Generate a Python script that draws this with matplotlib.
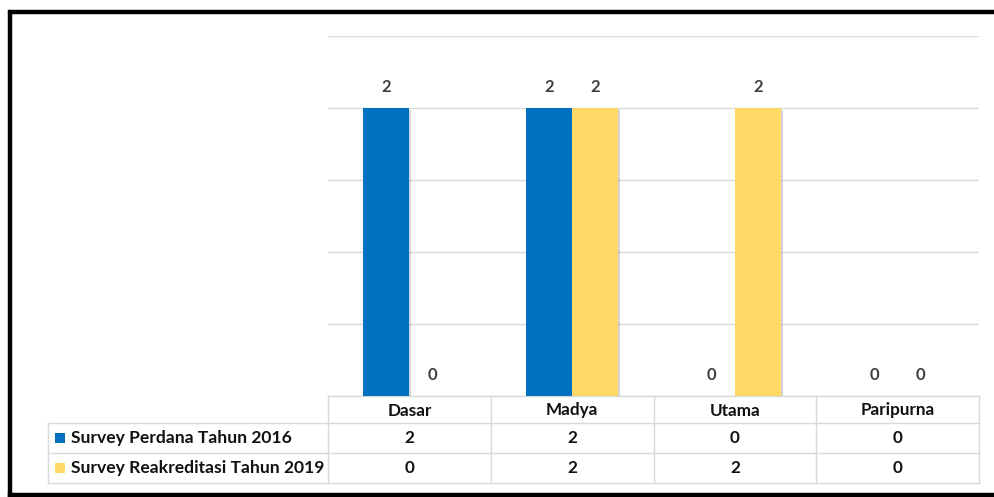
import matplotlib
matplotlib.use("Agg")
import matplotlib.pyplot as plt
import matplotlib.patheffects as pe
import numpy as np

categories = ["Dasar", "Madya", "Utama", "Paripurna"]
series_names = ["Survey Perdana Tahun 2016", "Survey Reakreditasi Tahun 2019"]
perdana_2016 = [2, 2, 0, 0]
reakreditasi_2019 = [0, 2, 2, 0]
series_values = [perdana_2016, reakreditasi_2019]
series_colors = ["#0070C0", "#FFD966"]

FONT = ["Lato", "DejaVu Sans"]
plt.rcParams["font.family"] = FONT

W, H = 995, 497
fig = plt.figure(figsize=(W / 100, H / 100), dpi=100)

# plot area in pixel terms
px_left, px_right, px_top, px_bottom = 328, 979, 36, 396
ax = fig.add_axes([px_left / W, 1 - px_bottom / H,
                   (px_right - px_left) / W, (px_bottom - px_top) / H])

n = len(categories)
x = np.arange(n)
bar_w = 0.283
offsets = [-bar_w / 2, bar_w / 2]
shadow = [pe.SimplePatchShadow(offset=(1.5, -1.2), shadow_rgbFace="#888888", alpha=0.35),
          pe.Normal()]

for vals, off, col in zip(series_values, offsets, series_colors):
    bars = ax.bar(x + off, vals, width=bar_w, color=col, zorder=3)
    for b, v in zip(bars, vals):
        if v > 0:
            b.set_path_effects(shadow)
        ax.annotate(f"{v}", (b.get_x() + b.get_width() / 2, v),
                    xytext=(0, 9), textcoords="offset points",
                    ha="center", va="bottom", fontsize=12,
                    fontweight="bold", color="#404040")

ax.set_xlim(-0.5, n - 0.5)
ax.set_ylim(0, 2.5)
ax.set_yticks(np.arange(0, 2.51, 0.5))
ax.yaxis.grid(True, color="#D9D9D9", linewidth=1.0)
ax.set_axisbelow(True)
ax.tick_params(left=False, bottom=False, labelleft=False, labelbottom=False)
for s in ax.spines.values():
    s.set_visible(False)

# data table beneath the plot area, in axes-blended coordinates
trans = ax.get_xaxis_transform()
ax_h = px_bottom - px_top


def yf(py):
    return (px_bottom - py) / ax_h


row_lines = [396, 423, 453, 483]
legend_left = -0.5 - (px_left - 48) / ((px_right - px_left) / n)
line_kw = dict(color="#D9D9D9", linewidth=1.0, transform=trans, clip_on=False)

ax.plot([-0.5, n - 0.5], [yf(396)] * 2, **line_kw)
for py in row_lines[1:]:
    ax.plot([legend_left, n - 0.5], [yf(py)] * 2, **line_kw)
for bx in np.arange(-0.5, n, 1.0):
    ax.plot([bx, bx], [yf(396), yf(483)], **line_kw)
ax.plot([legend_left, legend_left], [yf(423), yf(483)], **line_kw)

text_kw = dict(transform=trans, clip_on=False, fontweight="bold",
               fontsize=12.3, color="#111111", va="center")
hdr_y = yf((396 + 423) / 2 + 1)
for xi, cat in zip(x, categories):
    ax.text(xi, hdr_y, cat, ha="center", **text_kw)

row_ys = [yf((423 + 453) / 2), yf((453 + 483) / 2)]
for ry, name, vals, col in zip(row_ys, series_names, series_values, series_colors):
    for xi, v in zip(x, vals):
        ax.text(xi, ry, f"{v}", ha="center", **text_kw)
    name_kw = dict(text_kw, fontsize=12.6)
    ax.text(legend_left + 0.14, ry, name, ha="left", **name_kw)
    ax.scatter([legend_left + 0.076], [ry], marker="s", s=48, color=col,
               transform=trans, clip_on=False, zorder=4, linewidths=0)

# outer frame
frame = fig.add_axes([0, 0, 1, 1], facecolor="none")
frame.set_xlim(0, W)
frame.set_ylim(H, 0)
frame.axis("off")
frame.plot([10, 10, W + 5], [H + 5, 12, 12], color="black", linewidth=3.2,
           solid_joinstyle="miter")
frame.plot([10, W + 5], [495, 495], color="black", linewidth=3.2)

fig.savefig("out.png", dpi=100, facecolor="white")
